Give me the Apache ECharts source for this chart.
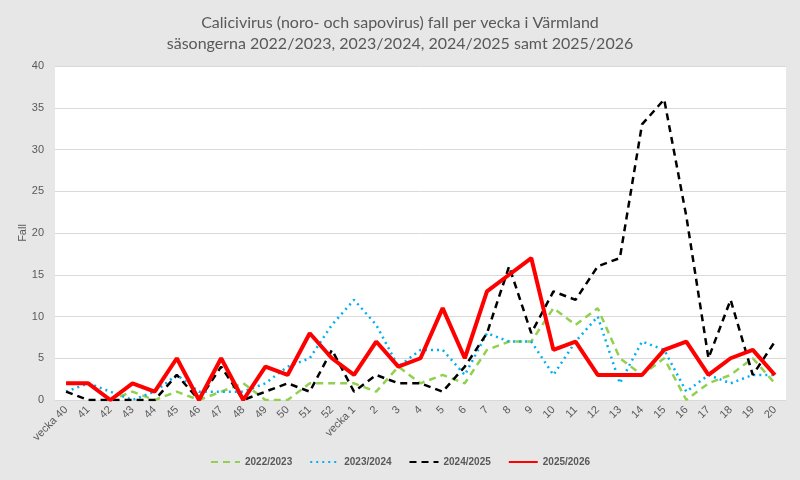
<!DOCTYPE html>
<html>
<head>
<meta charset="utf-8">
<script src="https://cdn.jsdelivr.net/npm/echarts@6/dist/echarts.min.js"></script>
<style>
html,body{margin:0;padding:0;background:#e7e7e7;}
#chart{width:800px;height:480px;}
</style>
</head>
<body>
<div id="chart"></div>
<script>
// veckor 40-52 och 1-20
var weeks = ['vecka 40','41','42','43','44','45','46','47','48','49','50','51','52',
  'vecka 1','2','3','4','5','6','7','8','9','10','11','12','13','14','15','16','17','18','19','20'];

var s2022 = [2,2,0,1,0,1,0,1,2,0,0,2,2, 2,1,4,2,3,2,6,7,7,11,9,11,5,3,5,0,2,3,5,2];
var s2023 = [1,2,1,0,1,3,1,1,1,2,4,5,9, 12,9,4,6,6,3,8,7,7,3,7,10,2,7,6,1,3,2,3,3];
var s2024 = [1,0,0,0,0,3,0,4,0,1,2,1,6, 1,3,2,2,1,4,8,16,8,13,12,16,17,33,36,22,5,12,3,7];
var s2025 = [2,2,0,2,1,5,0,5,0,4,3,8,5, 3,7,4,5,11,5,13,15,17,6,7,3,3,3,6,7,3,5,6,3];

var seasons = ['2022/2023','2023/2024','2024/2025','2025/2026'];
var yTicks = {min:0, max:40, interval:5};

var txt = '#595959';
var chart = echarts.init(document.getElementById('chart'));

function line(name, data, color, type, width){
  return {
    name: name, type: 'line', data: data, symbol: 'none',
    lineStyle: {color: color, type: type, width: width},
    itemStyle: {color: color}
  };
}

var option = {
  backgroundColor: '#e7e7e7',
  animation: false,
  title: {
    text: 'Calicivirus (noro- och sapovirus) fall per vecka i Värmland\nsäsongerna 2022/2023, 2023/2024, 2024/2025 samt 2025/2026',
    left: 'center', top: 7,
    textStyle: {color: txt, fontSize: 16, fontWeight: 'normal', fontFamily: 'Lato', lineHeight: 21}
  },
  legend: {
    bottom: 8, left: 'center',
    itemWidth: 29, itemHeight: 10, itemGap: 17,
    itemStyle: {opacity: 0},
    textStyle: {color: txt, fontSize: 10, fontWeight: 'bold', fontFamily: 'Liberation Sans'},
    data: seasons
  },
  grid: {left: 55, right: 14, top: 66, bottom: 80, show: true, backgroundColor: '#ffffff', borderWidth: 0},
  xAxis: {
    type: 'category', data: weeks, boundaryGap: true,
    axisLine: {show: false}, axisTick: {show: false},
    axisLabel: {color: txt, fontSize: 11, rotate: 45, interval: 0, margin: 8, fontFamily: 'Liberation Sans'}
  },
  yAxis: {
    type: 'value', min: yTicks.min, max: yTicks.max, interval: yTicks.interval,
    name: 'Fall', nameLocation: 'middle', nameGap: 27, nameMoveOverlap: false,
    nameTextStyle: {color: txt, fontSize: 11, fontFamily: 'Liberation Sans'},
    axisLabel: {color: txt, fontSize: 11, margin: 11, fontFamily: 'Liberation Sans'},
    splitLine: {lineStyle: {color: '#d9d9d9', width: 1}}
  },
  series: [
    line(seasons[0], s2022, '#92d050', [7,5], 2.5),
    line(seasons[1], s2023, '#00b0f0', [2,4], 2.5),
    line(seasons[2], s2024, '#000000', [7,5], 2.5),
    line(seasons[3], s2025, '#ff0000', 'solid', 4)
  ]
};
chart.setOption(option);
</script>
</body>
</html>
